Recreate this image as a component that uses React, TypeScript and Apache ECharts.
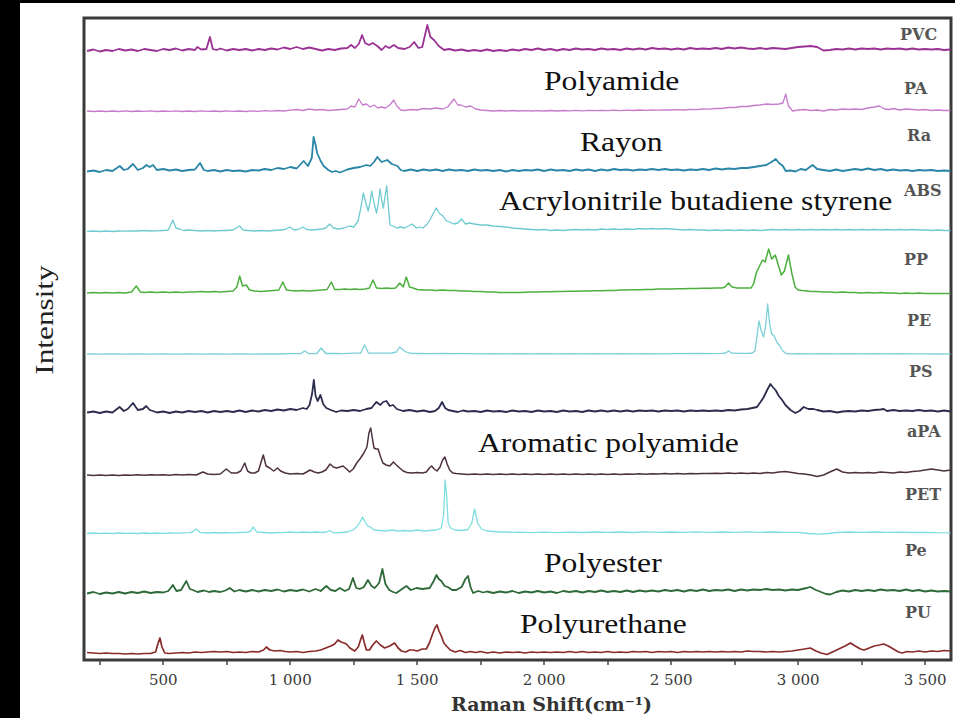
import React, { useEffect, useRef } from "react";
import * as echarts from "echarts";

// Raman shift axis (cm^-1)
const SHIFT_RANGE = [188, 3602];
const TICK_VALUES = [250, 500, 750, 1000, 1250, 1500, 1750, 2000, 2250, 2500, 2750, 3000, 3250, 3500];
const LABEL_VALUES = [500, 1000, 1500, 2000, 2500, 3000, 3500];

// Spectra: [Raman shift, relative intensity]
const PVC = [[200,1],[225,2.5],[250,0.5],[275,2],[300,1],[325,3],[350,1.5],[375,2.5],[400,1],[425,3],[450,2],[475,1],[500,3],[525,2],[550,3.5],[575,1.5],[600,3],[625,2],[634,5],[650,2.5],[670,3],[684,15],[695,3],[710,2],[725,3.5],[750,1.5],[775,3],[800,2],[825,3],[850,1.5],[875,3],[900,2],[925,3.5],[950,2.5],[975,4.5],[1000,3],[1025,5],[1050,3],[1075,4.5],[1100,3],[1125,1.5],[1150,3],[1175,2],[1200,3.5],[1225,4],[1240,7],[1255,4],[1270,8],[1283,17],[1295,9],[1310,7],[1325,9],[1343,6],[1360,2],[1375,6],[1390,4],[1408,7],[1425,4],[1450,3],[1470,5],[1488,10],[1505,4],[1520,5],[1540,27],[1552,15],[1566,12],[1585,6],[1606,2],[1625,3],[1650,1.5],[1675,2.5],[1700,1],[1725,2],[1750,1],[1775,2.5],[1800,1],[1825,2],[1850,1],[1875,2.5],[1900,1.5],[1925,3],[1950,2],[1975,3.5],[2000,2],[2025,3],[2050,1.5],[2075,3],[2100,2],[2125,3.5],[2150,2.5],[2175,3],[2200,2],[2225,3.5],[2250,2.5],[2275,3],[2300,2],[2325,3.5],[2350,2.5],[2375,3.5],[2400,2.5],[2425,4],[2450,3],[2475,3.5],[2500,2.5],[2525,3.5],[2550,2.5],[2575,4],[2600,3],[2625,3.5],[2650,3],[2675,4],[2700,3],[2725,4.5],[2750,3.5],[2775,4.5],[2800,3.5],[2825,3],[2850,4],[2875,3],[2900,4],[2925,3.5],[2950,3],[2975,4],[3000,5],[3025,5.5],[3050,6],[3075,5],[3100,1.5],[3125,2],[3150,3],[3175,2.5],[3200,3.5],[3225,2.5],[3250,3.5],[3275,3],[3300,3.5],[3325,2.5],[3350,3.5],[3375,3],[3400,3.5],[3425,2.5],[3450,3.5],[3475,2.5],[3500,3],[3525,2.5],[3550,3],[3575,2],[3600,2.5]];

const PA = [[200,2],[225,1.5],[250,2],[275,1.5],[300,2],[325,1.5],[350,2.2],[375,1.5],[400,2],[425,1.6],[450,2.2],[475,1.5],[500,2],[525,1.6],[550,2.2],[575,1.5],[600,2],[625,1.5],[650,2.2],[675,1.6],[700,2],[725,1.5],[750,2.2],[775,1.6],[800,2],[825,1.5],[850,2.2],[875,1.6],[900,2.4],[925,1.8],[950,2.5],[975,2],[1000,2.8],[1025,3.5],[1050,2.5],[1075,4],[1100,3],[1125,3.5],[1150,2.5],[1175,3],[1200,3.5],[1225,4],[1240,7],[1255,6],[1270,14],[1285,8],[1300,9],[1315,6],[1330,8],[1345,5],[1360,6],[1375,5],[1392,8],[1408,13],[1420,7],[1435,3],[1450,2.5],[1475,3.5],[1500,3],[1525,4.5],[1550,4],[1575,5],[1600,4],[1620,6],[1645,14],[1660,8],[1672,8],[1690,6],[1711,7],[1730,4],[1750,3],[1775,2.5],[1800,2],[1825,2.5],[1850,2],[1875,2.5],[1900,2],[1925,2.4],[1950,2],[1975,2.4],[2000,2],[2025,2.5],[2050,2],[2075,2.5],[2100,2.2],[2125,2.6],[2150,2.2],[2175,2.6],[2200,2.3],[2225,2.7],[2250,2.3],[2275,2.8],[2300,2.4],[2325,2.9],[2350,2.5],[2375,3],[2400,2.6],[2425,3],[2450,2.8],[2475,3.2],[2500,3],[2525,3.4],[2550,3],[2575,3.6],[2600,3.4],[2625,4],[2650,3.8],[2675,4.5],[2700,4.5],[2725,5.5],[2750,5.5],[2775,6.5],[2800,6.5],[2825,7.5],[2850,8],[2875,9],[2900,8.5],[2925,9],[2940,10],[2951,19],[2962,7],[2978,2],[3000,3],[3025,3.5],[3050,2.5],[3075,3],[3100,2],[3125,3.5],[3150,3],[3175,4],[3200,3.5],[3225,4],[3250,3.5],[3275,5],[3300,6],[3320,7],[3340,4],[3360,3.5],[3375,4.5],[3400,3],[3425,4],[3450,3.5],[3475,3],[3500,3.5],[3525,2.5],[3550,3],[3575,2.5],[3600,2.5]];

const RA = [[200,1.5],[225,2.5],[250,1],[275,3],[300,2],[329,7],[345,3],[360,4],[381,9],[400,3],[420,5],[434,8],[447,6],[460,8],[475,3],[500,4],[525,2.5],[550,3.5],[575,2],[600,3],[625,3.5],[645,10],[660,3],[675,2],[700,3],[725,1.5],[750,3],[775,2],[800,2.5],[825,1.5],[850,3],[875,2.5],[900,4],[925,3],[950,5],[975,4],[1000,6],[1025,4.5],[1053,12],[1070,7],[1085,15],[1092,36],[1100,28],[1106,20],[1120,12],[1132,7],[1150,3],[1165,1],[1180,2],[1195,0.5],[1211,2],[1225,3.5],[1250,5],[1275,6],[1300,8],[1315,7],[1330,11],[1343,16],[1360,11],[1382,13],[1400,9],[1422,7],[1435,3],[1448,2],[1475,3.5],[1500,2],[1525,3.5],[1550,2.5],[1575,3.5],[1600,2],[1625,3.5],[1650,2.5],[1675,3],[1700,2],[1725,3.5],[1750,2.5],[1775,3],[1800,2],[1825,3],[1850,1.5],[1875,3],[1900,2],[1925,3],[1950,2.5],[1975,3.5],[2000,2],[2025,3.5],[2050,2.5],[2075,3],[2100,2],[2125,3.5],[2150,2.5],[2175,3.5],[2200,2],[2225,3.5],[2250,2.5],[2275,4],[2300,3],[2325,3.5],[2350,2.5],[2375,3.5],[2400,3],[2425,4],[2450,3],[2475,4],[2500,3],[2525,3.5],[2550,2.5],[2575,3.5],[2600,3],[2625,4],[2650,3],[2675,4.5],[2700,3.5],[2725,4.5],[2750,4],[2775,5],[2800,5],[2825,6],[2850,7],[2875,8],[2895,11],[2912,14],[2925,10],[2940,7],[2951,2],[2970,2.5],[2990,1.5],[3010,4],[3030,3],[3057,8],[3075,4],[3100,3],[3125,2],[3150,3.5],[3175,2],[3200,3],[3225,4],[3250,3],[3275,4.5],[3300,3],[3325,4],[3350,2.5],[3375,3.5],[3400,2.5],[3425,3],[3450,2],[3475,3],[3500,2.5],[3525,3],[3550,2],[3575,2.5],[3600,2]];

const ABS = [[200,1.5],[225,2],[250,1.5],[275,2],[300,1.5],[325,2],[350,1.8],[375,2.2],[400,2],[425,2.5],[450,2],[475,2.2],[500,2.5],[520,3],[538,13],[550,5],[564,4],[580,2.5],[600,3],[625,2.5],[650,2],[675,2.5],[700,2],[725,2.5],[750,2.5],[775,3],[801,7],[815,3],[835,2.5],[860,2],[885,2.5],[910,2],[935,2.5],[960,3],[980,3.5],[998,6],[1015,3],[1030,3.5],[1050,6],[1065,3.5],[1085,3],[1105,3.5],[1125,4],[1140,5],[1155,9],[1170,5],[1190,4],[1210,5],[1234,7],[1250,6],[1267,12],[1278,25],[1288,40],[1298,30],[1307,22],[1314,30],[1321,42],[1330,30],[1340,20],[1347,30],[1354,44],[1361,32],[1367,25],[1374,38],[1380,47],[1387,25],[1393,8],[1405,7],[1420,5],[1435,6],[1450,5],[1465,7],[1480,9],[1497,5],[1510,6],[1523,5],[1540,9],[1552,14],[1564,20],[1575,25],[1590,19],[1602,17],[1615,12],[1628,11],[1645,9],[1660,10],[1674,14],[1690,9],[1707,10],[1725,9],[1750,8],[1775,8],[1800,7],[1825,6.5],[1850,6],[1875,5],[1900,4.5],[1925,4],[1950,3.5],[1975,3],[2000,3.5],[2025,2.5],[2050,3],[2075,2.5],[2100,3],[2125,3.5],[2150,3],[2175,3.5],[2200,3],[2225,4],[2250,3.5],[2275,4],[2300,3.5],[2325,4],[2350,3.5],[2375,4.5],[2400,4],[2425,4.5],[2450,4],[2475,4.5],[2500,4],[2525,3.5],[2550,3],[2575,3.5],[2600,3],[2625,3],[2650,2.5],[2675,3],[2700,2.5],[2725,3],[2750,2.5],[2775,3],[2800,2.5],[2825,3],[2850,2.5],[2875,3],[2900,3.5],[2925,3],[2950,3.5],[2975,3],[3000,3.5],[3025,3],[3050,3.5],[3075,3],[3100,3.5],[3125,3],[3150,3.5],[3175,3],[3200,3.5],[3225,3],[3250,3.5],[3275,3],[3300,3.5],[3325,3],[3350,3.5],[3375,3],[3400,3.5],[3425,3],[3450,3.5],[3475,3],[3500,3],[3525,2.5],[3550,3],[3575,2.5],[3600,2.5]];

const PP = [[200,2],[225,2.5],[250,2],[275,2.5],[300,2],[325,2.5],[350,2],[375,3],[394,9],[410,3],[425,2.5],[450,3],[475,2.5],[500,3],[525,2.5],[550,3],[575,2.5],[600,3],[625,3],[650,3.5],[675,3],[700,3.5],[725,3],[750,3.5],[775,4],[790,8],[801,19],[812,9],[827,10],[840,5],[860,4],[885,3.5],[910,4],[935,4.5],[955,5],[971,13],[985,5],[1000,4.5],[1025,4],[1050,4.5],[1075,4],[1100,4.5],[1125,5],[1145,5.5],[1162,13],[1175,5.5],[1195,5.5],[1215,6],[1235,5.5],[1255,6],[1275,5.5],[1295,6],[1312,7],[1326,15],[1340,7],[1360,6.5],[1380,7],[1400,6.5],[1415,7],[1431,12],[1445,8],[1457,18],[1470,8],[1484,7],[1500,5.5],[1525,5],[1550,5],[1575,4.5],[1600,5],[1625,4.5],[1650,4.5],[1675,4],[1700,4],[1725,3.5],[1750,3.5],[1775,3],[1800,3],[1825,2.5],[1850,2.5],[1875,2.5],[1900,2.5],[1925,2.8],[1950,3],[1975,3],[2000,3.2],[2025,3.2],[2050,3.5],[2075,3.5],[2100,3.8],[2125,3.8],[2150,4],[2175,4],[2200,4.3],[2225,4.3],[2250,4.6],[2275,4.6],[2300,5],[2325,5],[2350,5.3],[2375,5.3],[2400,5.6],[2425,5.6],[2450,6],[2475,6],[2500,6],[2525,6.3],[2550,6.3],[2575,6.5],[2600,6.5],[2625,6.8],[2650,6.8],[2675,7],[2700,7],[2712,8],[2726,12],[2740,8],[2760,7],[2780,7],[2800,7],[2815,7],[2826,12],[2835,22],[2850,30],[2860,35],[2870,33],[2884,46],[2896,36],[2910,40],[2922,30],[2934,20],[2946,24],[2962,40],[2975,22],[2988,8],[3000,5],[3015,4.5],[3035,4],[3050,3.5],[3075,3.5],[3100,3],[3125,3],[3150,2.5],[3175,3],[3200,2.5],[3225,2.5],[3250,2],[3275,2.5],[3300,2],[3325,2.5],[3350,2],[3375,2],[3400,1.5],[3425,2],[3450,1.5],[3475,2],[3500,1.5],[3525,1.5],[3550,1.5],[3575,1.5],[3600,1.5]];

const PE = [[200,2],[250,1.8],[300,2.1],[350,1.8],[400,2.1],[450,1.9],[500,2.1],[550,1.8],[600,2.1],[650,1.9],[700,2.2],[750,1.9],[800,2.2],[850,1.9],[900,2.2],[950,2],[1000,2.3],[1040,2.3],[1057,5],[1075,2.3],[1105,2.5],[1122,8],[1140,2.5],[1175,2.6],[1210,2.4],[1250,2.8],[1278,3],[1293,11],[1308,3],[1350,2.8],[1400,3],[1418,4],[1431,9],[1444,6],[1457,4],[1475,2.6],[1500,2.5],[1550,2.4],[1600,2.5],[1650,2.3],[1700,2.4],[1750,2.2],[1800,2.4],[1850,2.2],[1900,2.3],[1950,2.1],[2000,2.3],[2050,2.1],[2100,2.3],[2150,2.1],[2200,2.3],[2250,2.1],[2300,2.3],[2350,2.2],[2400,2.4],[2450,2.2],[2500,2.4],[2550,2.3],[2600,2.5],[2650,2.4],[2700,2.6],[2715,3],[2726,5],[2740,2.8],[2775,2.6],[2800,2.6],[2820,3],[2830,5],[2838,20],[2846,35],[2854,26],[2864,19],[2872,30],[2880,52],[2888,32],[2896,22],[2906,20],[2916,14],[2928,10],[2940,5],[2952,2.5],[2975,2.2],[3000,2.4],[3050,2.2],[3100,2.4],[3150,2.2],[3200,2.4],[3250,2.2],[3300,2.3],[3350,2.1],[3400,2.3],[3450,2.1],[3500,2.2],[3550,2],[3600,2.1]];

const PS = [[200,1.5],[225,2.5],[250,1],[275,2.5],[300,1.5],[328,7],[345,3],[360,5],[381,11],[400,4],[420,5],[433,8],[447,4],[459,3],[475,1.5],[500,2.5],[525,1],[550,2.5],[575,1.5],[600,3],[625,2],[650,3],[675,1.5],[700,3],[725,2],[750,3],[775,2],[800,3.5],[825,2],[850,3.5],[875,2.5],[900,4],[925,3],[950,4.5],[975,3.5],[1000,5],[1025,4],[1050,6],[1065,5],[1076,9],[1086,20],[1093,34],[1100,18],[1108,13],[1119,19],[1130,10],[1142,6],[1160,4],[1181,2],[1200,3.5],[1225,3],[1250,4],[1275,3],[1300,5],[1320,6],[1339,12],[1355,9],[1366,12],[1379,13],[1392,8],[1405,9],[1420,5],[1444,3],[1470,4],[1500,2.5],[1525,3.5],[1550,2],[1570,3],[1585,6],[1598,12],[1610,6],[1622,4],[1640,3],[1660,2],[1680,3.5],[1700,2.5],[1725,3],[1750,2],[1775,3.5],[1800,2.5],[1825,3],[1850,2],[1875,3.5],[1900,2.5],[1925,3],[1950,2],[1975,3.5],[2000,2.5],[2025,3],[2050,2],[2075,3.5],[2100,2.5],[2125,3],[2150,2],[2175,3.5],[2200,2.5],[2225,3.5],[2250,2.5],[2275,3.5],[2300,2.5],[2325,3.5],[2350,2.5],[2375,3.5],[2400,3],[2425,3.5],[2450,2.5],[2475,3.5],[2500,3],[2525,3.5],[2550,2.5],[2575,3.5],[2600,3],[2625,3.5],[2650,3],[2675,3.5],[2700,3],[2725,4],[2750,3.5],[2775,4.5],[2800,5],[2820,6],[2838,7],[2852,12],[2865,17],[2878,24],[2891,30],[2900,27],[2911,24],[2924,18],[2937,14],[2950,9],[2970,4],[2989,1],[3005,3],[3022,7],[3040,5],[3060,5],[3075,4],[3100,2.5],[3125,3],[3154,1.5],[3175,2.5],[3200,3],[3225,2.5],[3250,3.5],[3275,3],[3300,4],[3325,4.5],[3337,5],[3350,3],[3375,4],[3400,3],[3425,3.5],[3450,3],[3475,4],[3500,3],[3525,3.5],[3550,2.5],[3575,3.5],[3600,2.5]];

const APA = [[200,2],[225,1.5],[250,2],[275,1.5],[300,2],[325,1.5],[350,2],[375,1.8],[400,2.2],[425,1.8],[450,2.2],[475,2],[500,2.2],[525,1.8],[550,2.4],[575,2],[600,2.4],[630,2],[656,5],[675,3],[700,2.5],[725,3],[748,8],[768,4],[790,4],[805,6],[821,14],[832,6],[845,4],[860,4],[875,6],[884,14],[894,22],[905,11],[919,9],[935,6],[950,9],[962,6],[980,4],[1000,3],[1025,3.5],[1050,3],[1065,5],[1078,7],[1095,5],[1110,4],[1125,5],[1140,7],[1157,13],[1170,10],[1183,9],[1196,10],[1208,11],[1222,8],[1234,5],[1248,8],[1262,14],[1277,19],[1290,24],[1302,30],[1310,44],[1317,49],[1324,38],[1330,29],[1338,28],[1346,28],[1356,20],[1365,14],[1378,12],[1392,11],[1406,15],[1418,12],[1431,9],[1445,6],[1460,4.5],[1480,4],[1500,4.5],[1520,4],[1536,5],[1548,9],[1557,11],[1567,8],[1578,6],[1590,10],[1600,17],[1609,20],[1618,13],[1628,7],[1640,4],[1654,3.5],[1675,3],[1700,2.5],[1725,3],[1750,2.5],[1775,3],[1800,2.5],[1825,3],[1850,2.5],[1875,3],[1900,2.5],[1925,3],[1950,2.5],[1975,3],[2000,2.5],[2025,3],[2050,2.5],[2075,3],[2100,2.5],[2125,3],[2150,2.5],[2175,3],[2200,2.5],[2225,3],[2250,2.5],[2275,3],[2300,2.5],[2325,3],[2350,2.8],[2375,3.2],[2400,2.8],[2425,3.2],[2450,3],[2475,3.5],[2500,3],[2525,3.5],[2550,3],[2575,3.5],[2600,3.2],[2625,3.6],[2650,3.4],[2675,3.8],[2700,3.5],[2725,4],[2750,3.5],[2775,4],[2800,3.5],[2825,4],[2850,3.5],[2875,4.5],[2900,4],[2925,5],[2950,5.5],[2975,4.5],[3000,3.5],[3025,3],[3050,2],[3075,0.5],[3100,2],[3125,5],[3152,8],[3175,5],[3200,4],[3225,4.5],[3250,4],[3275,4.5],[3300,4],[3325,5],[3350,4.5],[3375,4],[3400,5],[3425,4.5],[3450,5.5],[3475,6],[3500,7],[3525,8],[3550,7],[3575,6],[3600,7]];

const PET = [[200,1.5],[225,2],[250,1.5],[275,1.8],[300,1.5],[325,2],[350,1.6],[375,1.9],[400,1.5],[425,2],[450,1.6],[475,2],[500,1.7],[525,2],[550,1.8],[575,2.1],[600,2.4],[615,3],[630,6],[645,2.6],[675,2],[700,2.5],[725,2],[750,2.5],[775,2.1],[800,2.5],[825,2.6],[842,3.5],[855,8],[868,3],[900,2.5],[925,2],[950,2.5],[975,2.4],[1000,3],[1025,2.5],[1050,3],[1075,2.5],[1100,3],[1125,2.5],[1142,3],[1155,4.5],[1170,2.2],[1200,2.5],[1225,3],[1247,5],[1262,8],[1275,13],[1285,18],[1295,13],[1305,9],[1315,8],[1330,5],[1350,4.5],[1375,4],[1400,5],[1425,4],[1450,4.5],[1475,4],[1500,5],[1525,4],[1550,4.5],[1575,5],[1595,7],[1604,20],[1610,55],[1616,40],[1622,12],[1632,7],[1650,5],[1675,4.5],[1700,5.5],[1715,12],[1726,26],[1738,12],[1753,6],[1775,4],[1800,3.5],[1825,3],[1850,3.2],[1875,2.6],[1900,2.8],[1950,2.4],[2000,2.8],[2050,2.4],[2100,2.9],[2150,2.5],[2200,3],[2250,2.6],[2300,3],[2350,2.5],[2400,3.1],[2450,2.6],[2500,3],[2550,2.6],[2600,3.1],[2650,2.7],[2700,3],[2750,2.6],[2800,3.2],[2850,2.7],[2900,3],[2950,2.7],[3000,2.6],[3040,1.5],[3080,0.8],[3120,1.5],[3150,2.5],[3200,3],[3250,2.6],[3300,3],[3350,2.6],[3400,2.9],[3450,2.5],[3500,2.7],[3550,2.3],[3600,2.2]];

const PES = [[200,1.5],[225,3],[250,1],[275,2.5],[300,1.5],[325,3],[350,1.5],[375,3],[400,2],[425,3.5],[450,2],[475,3],[500,2.5],[520,4],[538,10],[552,4],[570,5],[591,14],[605,6],[617,5],[635,3],[660,4.5],[680,3],[700,4],[725,3],[745,4.5],[762,7],[780,3.5],[800,5],[825,3.5],[850,5],[875,3.5],[900,5],[925,4],[950,5.5],[975,3.5],[1000,5],[1025,4],[1050,5.5],[1075,3.5],[1100,6],[1120,4],[1142,9],[1160,5],[1178,4],[1195,7],[1215,4],[1232,6],[1247,17],[1260,7],[1274,6],[1290,8],[1306,15],[1320,9],[1333,7],[1350,12],[1363,26],[1375,11],[1390,5],[1405,3],[1418,2],[1435,5],[1457,9],[1475,5],[1497,7],[1520,6],[1549,7],[1565,14],[1576,20],[1585,16],[1595,14],[1608,9],[1620,8],[1638,5],[1654,5],[1675,8],[1690,16],[1700,19],[1710,8],[1720,2],[1740,4],[1760,2.5],[1775,3.5],[1800,2],[1825,3.5],[1850,2.5],[1875,4],[1900,2],[1925,3.5],[1950,2.5],[1975,4],[2000,2.5],[2025,3.5],[2050,2],[2075,4],[2100,3],[2125,4],[2150,2.5],[2175,4],[2200,3],[2225,4.5],[2250,3],[2275,4],[2300,3],[2325,4.5],[2350,3],[2375,4.5],[2400,3.5],[2425,4.5],[2450,3.5],[2475,5],[2500,4],[2525,5],[2550,3.5],[2575,5],[2600,4],[2625,5.5],[2650,4],[2675,5],[2700,4.5],[2725,5.5],[2750,4],[2775,5.5],[2800,4.5],[2825,5.5],[2850,5],[2875,6],[2900,5],[2925,5.5],[2950,4.5],[2975,5.5],[3000,5],[3025,6.5],[3048,8],[3070,5],[3090,3],[3110,1],[3127,0.5],[3150,3],[3175,4.5],[3200,3.5],[3225,5],[3250,4],[3275,5],[3300,4],[3325,5.5],[3350,4.5],[3375,5],[3400,4],[3425,5.5],[3450,4],[3475,5],[3500,3.5],[3525,4.5],[3550,3.5],[3575,4],[3600,3.5]];

const PU = [[200,2.5],[225,2],[250,1.5],[275,2],[300,1.5],[325,1.5],[350,1],[375,1.5],[400,1],[425,1.5],[450,1.5],[470,3],[480,12],[487,17],[495,8],[506,2],[525,1.5],[550,2],[575,2.5],[600,2],[625,3],[650,2.5],[675,3],[700,3.5],[725,3],[750,3.5],[775,2.5],[800,3],[825,2.5],[850,3.5],[875,3],[895,5],[906,8],[920,5],[940,4],[960,4.5],[980,3.5],[1000,3],[1025,3.5],[1050,2.5],[1075,3.5],[1100,4],[1120,5],[1140,7],[1160,9],[1175,11],[1188,15],[1200,13],[1212,12],[1221,11],[1235,7],[1254,4],[1268,8],[1278,16],[1284,20],[1292,12],[1300,5],[1312,5],[1325,10],[1339,14],[1355,10],[1372,7],[1392,9],[1411,12],[1425,7],[1438,4],[1455,3],[1470,5],[1483,5],[1500,4],[1520,6],[1536,6],[1548,12],[1562,22],[1570,27],[1578,30],[1586,24],[1595,19],[1605,12],[1615,9],[1630,5],[1650,3],[1670,4.5],[1690,2.5],[1710,3.5],[1730,2.5],[1750,3.5],[1775,2],[1800,3],[1825,2],[1850,3],[1875,2.5],[1900,3],[1925,2],[1950,3],[1975,2.5],[2000,3],[2025,2.5],[2050,3],[2075,2.5],[2100,3.5],[2125,2.5],[2150,3.5],[2175,2.5],[2200,3],[2225,2.5],[2250,3.5],[2275,2.5],[2300,3],[2325,2.5],[2350,3.5],[2375,3],[2400,3.5],[2425,2.5],[2450,3.5],[2475,3],[2500,3.5],[2525,2.5],[2550,3.5],[2575,3],[2600,3.5],[2625,3],[2650,3.5],[2675,3],[2700,3.5],[2725,3],[2750,3.5],[2775,3],[2800,4],[2825,3.5],[2850,3.5],[2875,3],[2900,3.5],[2925,3],[2950,3.5],[2975,4],[3000,5],[3025,6],[3048,7],[3070,4],[3090,2],[3114,0.5],[3135,3],[3160,6],[3185,9],[3206,12],[3225,9],[3245,6],[3260,5],[3280,7],[3300,9],[3320,10],[3337,11],[3355,9],[3375,6],[3395,3],[3410,2],[3430,3.5],[3450,3],[3475,4],[3500,3],[3525,4],[3550,3.5],[3575,4.5],[3600,4]];

const TRACES = [PVC, PA, RA, ABS, PP, PE, PS, APA, PET, PES, PU];
const TRACE_CODES = ["PVC", "PA", "Ra", "ABS", "PP", "PE", "PS", "aPA", "PET", "Pe", "PU"];
const TRACE_OFFSETS = [608, 547, 487, 427, 365, 304, 246, 183, 125, 65, 5];
const POLYMER_NAMES = ["Polyamide", "Rayon", "Acrylonitrile butadiene styrene", "Aromatic polyamide", "Polyester", "Polyurethane"];

// styling / layout (not data)
const COLORS = ["#9a3294", "#c77ccb", "#2a86a6", "#70cad1", "#4caf3e", "#7ccfd7", "#2c2c4e", "#4d3140", "#7edde0", "#2e6a38", "#8a2b2b"];
const WIDTHS = [1.8, 1.3, 1.8, 1.3, 1.5, 1.3, 1.8, 1.5, 1.3, 1.8, 1.7];
const CODE_POS = [[900, 34], [904, 88], [907, 135], [904, 190], [904, 259], [907, 320], [909, 371], [907, 431], [905, 494], [905, 550], [905, 612]];
const NAME_POS = [[544, 80], [580, 141], [499, 200], [478, 442], [544, 562], [520, 623]];

function fmtShift(v: number): string {
  if (v >= 1000) {
    const th = Math.floor(v / 1000);
    const rest = String(v % 1000).padStart(3, "0");
    return th + " " + rest;
  }
  return String(v);
}

export default function App() {
  const ref = useRef<HTMLDivElement>(null);
  useEffect(() => {
    document.body.style.margin = "0";
    if (!ref.current) return;
    const chart = echarts.init(ref.current, null, { renderer: "svg" });

    const series = TRACES.map((pts, i) => ({
      type: "line",
      name: TRACE_CODES[i],
      data: pts.map(([x, y]) => [x, y + TRACE_OFFSETS[i]]),
      showSymbol: false,
      symbol: "none",
      silent: true,
      lineStyle: { color: COLORS[i], width: WIDTHS[i], join: "round" },
      itemStyle: { color: COLORS[i] },
      z: 2,
    }));

    const graphic: any[] = [
      { type: "rect", z: 100, shape: { x: 0, y: 0, width: 20, height: 718 }, style: { fill: "#000" } },
      { type: "rect", z: 100, shape: { x: 0, y: 0, width: 955, height: 3 }, style: { fill: "#000" } },
      {
        type: "text", z: 100, x: 45, y: 320, rotation: Math.PI / 2, scaleX: 1.25,
        style: { text: "Intensity", fontSize: 25, fontFamily: "Liberation Serif", fill: "#222", align: "center", verticalAlign: "middle", textAlign: "center", textVerticalAlign: "middle" },
      },
    ];
    TRACE_CODES.forEach((c, i) => {
      graphic.push({
        type: "text", z: 100, x: CODE_POS[i][0], y: CODE_POS[i][1],
        style: { text: c, fontSize: 16, fontWeight: "bold", fontFamily: "DejaVu Serif", fill: "#555", align: "left", verticalAlign: "middle", textAlign: "left", textVerticalAlign: "middle" },
      });
    });
    POLYMER_NAMES.forEach((n, i) => {
      graphic.push({
        type: "text", z: 100, x: NAME_POS[i][0], y: NAME_POS[i][1], scaleX: 1.13,
        style: { text: n, fontSize: 28, fontFamily: "Liberation Serif", fill: "#111", align: "left", verticalAlign: "middle", textAlign: "left", textVerticalAlign: "middle" },
      });
    });

    chart.setOption({
      animation: false,
      backgroundColor: "#fff",
      grid: { left: 84, right: 4, top: 18, bottom: 58, show: true, borderColor: "#3a3a3a", borderWidth: 3, backgroundColor: "transparent" },
      xAxis: {
        type: "value",
        min: SHIFT_RANGE[0],
        max: SHIFT_RANGE[1],
        name: "Raman Shift(cm\u207B\u00B9)",
        nameLocation: "middle",
        nameGap: 34,
        nameTextStyle: { fontFamily: "DejaVu Serif", fontWeight: "bold", fontSize: 19, color: "#333", padding: [0, 0, 0, 68] },
        axisLine: { show: false },
        axisTick: { show: true, inside: false, length: 5, customValues: TICK_VALUES, lineStyle: { color: "#444", width: 1.5 } },
        axisLabel: { customValues: LABEL_VALUES, margin: 12, fontFamily: "DejaVu Serif", fontSize: 15, color: "#3a3a3a", formatter: (v: number) => fmtShift(v) },
        splitLine: { show: false },
      },
      yAxis: { type: "value", min: 0, max: 642, show: false },
      series,
      graphic,
    });
    return () => chart.dispose();
  }, []);
  return <div ref={ref} style={{ width: 955, height: 718 }} />;
}
